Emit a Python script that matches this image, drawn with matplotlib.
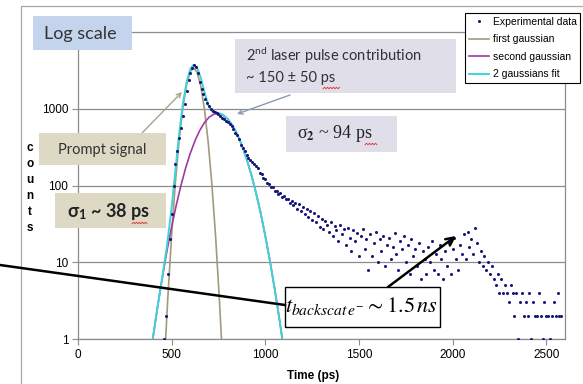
import numpy as np
import matplotlib
matplotlib.use("Agg")
import matplotlib.pyplot as plt
from matplotlib.patches import Rectangle
from matplotlib.lines import Line2D
from matplotlib.transforms import Affine2D

W, H = 583, 384

# experimental histogram: 10 ps bins starting at 460 ps (counts)
T0, DT = 460, 10
counts = [
    1, 2, 7, 20, 43, 100, 190, 280, 420, 560,
    800, 1150, 1700, 2400, 2950, 3400, 3750, 3500, 2900, 2200,
    1800, 1550, 1350, 1180, 1080, 980, 930, 900, 870, 850,
    800, 760, 730, 700, 670, 640, 600, 540, 490, 450,
    400, 340, 310, 280, 250, 230, 215, 200, 190, 178,
    168, 146, 140, 124, 121, 107, 106, 95, 97, 86,
    86, 78, 79, 71, 72, 66, 67, 60, 62, 56,
    60, 49, 57, 46, 53, 42, 50, 39, 47, 36,
    44, 33, 40, 29, 37, 27, 34, 31, 25, 33,
    22, 30, 26, 19, 31, 23, 27, 17, 28, 21,
    14, 26, 19, 24, 12, 22, 27, 15, 20, 8,
    23, 12, 18, 25, 10, 20, 14, 22, 9, 17,
    21, 11, 16, 24, 13, 8, 19, 15, 22, 10,
    17, 7, 20, 12, 15, 9, 18, 6, 14, 11,
    7, 16, 10, 19, 8, 13, 7, 17, 11, 6,
    14, 9, 18, 7, 15, 21, 11, 8, 17, 13,
    23, 11, 25, 16, 20, 13, 28, 18, 10, 14,
    9, 12, 8, 10, 7, 9, 6, 5, 7, 4,
    6, 4, 5, 4, 3, 5, 4, 2, 4, 1,
    3, 4, 2, 3, 2, 4, 1, 3, 2, 2,
    4, 2, 1, 3, 2, 2, 1, 2, 3, 2,
    4, 2, 2,
]
time_ps = T0 + DT * np.arange(len(counts))

# fitted curves, points
g1_t = [465, 480, 500, 520, 540, 560, 580, 600, 617, 635, 655, 675, 695, 715, 735, 755, 770]
g1_y = [0.74, 3.6, 22.9, 110, 390, 1038, 2062, 3060, 3400, 3020, 2006, 995, 368, 102, 21, 3.2, 0.66]

g2_t = [400, 425, 450, 475, 500, 525, 550, 575, 600, 625, 650, 675, 700, 725, 745,
        770, 800, 825, 850, 875, 900, 925, 950, 975, 1000, 1025, 1050, 1075, 1100]
g2_y = [1.03, 2.65, 6.3, 14.1, 29.1, 56, 101, 170, 265, 385, 522, 659, 776, 850, 870,
        840, 733, 606, 466, 334, 223, 139, 81, 44, 22, 10.3, 4.5, 1.83, 0.70]

fit_t = [400, 425, 450, 475, 500, 520, 540, 560, 580, 600, 617, 635, 655, 675, 695, 715,
         735, 755, 775, 800, 825, 850, 875, 900, 925, 950, 975, 1000, 1025, 1050, 1075, 1100]
fit_y = [1.03, 2.65, 6.4, 16.3, 52, 159, 471, 1163, 2248, 3325, 3744, 3459, 2556, 1654, 1123, 929,
         886, 868, 827, 733, 606, 466, 334, 223, 139, 81, 44, 22, 10.3, 4.5, 1.83, 0.70]

x_ticks = [0, 500, 1000, 1500, 2000, 2500]
y_ticks = [1, 10, 100, 1000]

DATA_C, G1_C, G2_C, FIT_C = "#17177a", "#a39a7c", "#a03aa0", "#3fd3d8"
GRID_C = "#8c8c8c"

plt.rcParams["font.family"] = ["Liberation Sans", "DejaVu Sans"]
plt.rcParams["mathtext.fontset"] = "custom"
plt.rcParams["mathtext.rm"] = "Lato"
plt.rcParams["mathtext.it"] = "Lato:italic"
plt.rcParams["mathtext.bf"] = "Lato:bold"

fig = plt.figure(figsize=(W / 100, H / 100), dpi=100)
PX = Affine2D().scale(1 / W, -1 / H).translate(0, 1) + fig.transFigure

# outer chart frame
fig.add_artist(Rectangle((21, 6), 700, 500, transform=PX, fill=False,
                         edgecolor="#a8a8a8", lw=0.9, zorder=0))

ax = fig.add_axes([78 / W, 1 - 339 / H, (565 - 78) / W, (339 - 32) / H])
ax.set_yscale("log")
ax.plot(g1_t, g1_y, color=G1_C, lw=1.2, label="first gaussian", zorder=2)
ax.plot(g2_t, g2_y, color=G2_C, lw=1.2, label="second gaussian", zorder=2)
ax.plot(fit_t, fit_y, color=FIT_C, lw=1.4, label="2 gaussians fit", zorder=3)
ax.plot(time_ps, counts, ls="none", marker="o", ms=2.2, mew=0, color=DATA_C,
        label="Experimental data", zorder=4)
ax.set_xlim(0, 2600)
ax.set_ylim(1, 10000)
ax.set_xticks(x_ticks)
ax.set_yticks(y_ticks)
ax.set_yticklabels([str(v) for v in y_ticks])
ax.minorticks_off()
ax.tick_params(length=4, color=GRID_C, labelsize=8.5, pad=3)
ax.grid(axis="y", color=GRID_C, lw=0.9)
for s in ax.spines.values():
    s.set_color(GRID_C)
    s.set_linewidth(0.9)

h, l = ax.get_legend_handles_labels()
order = [3, 0, 1, 2]
leg = fig.legend([h[i] for i in order], [l[i] for i in order], loc="upper left",
                 bbox_to_anchor=(465 / W, 1 - 13 / H), frameon=True,
                 fancybox=False, framealpha=1, edgecolor="black", borderaxespad=0,
                 borderpad=0.35, handlelength=2.0, handletextpad=0.3, labelspacing=0.72,
                 prop={"family": ["Liberation Sans Narrow", "Liberation Sans"], "size": 7.5})
leg.get_frame().set_linewidth(0.8)

fig.text(313, 376, "Time (ps)", transform=PX, ha="center", va="center",
         fontsize=8.5, fontweight="bold")
fig.text(30, 188, "c\no\nu\nn\nt\ns", transform=PX, ha="center", va="center",
         fontsize=8.5, fontweight="bold", linespacing=1.45)


def box(x0, y0, x1, y1, color, edge="none", lw=0):
    fig.add_artist(Rectangle((x0, y0), x1 - x0, y1 - y0, transform=PX, facecolor=color,
                             edgecolor=edge, lw=lw, zorder=5))


def arrow(x0, y0, x1, y1, color, lw=1.0, size=8):
    ax.annotate("", xy=(x1, y1), xytext=(x0, y0), xycoords=PX, textcoords=PX,
                arrowprops=dict(arrowstyle="->", color=color, lw=lw, mutation_scale=size,
                                shrinkA=0, shrinkB=0), zorder=6, annotation_clip=False)


def squiggle(x0, x1, y):
    xs = np.arange(x0, x1 + 0.1, 1.5)
    ys = y + np.where(np.arange(len(xs)) % 2 == 0, 0.8, -0.8)
    fig.add_artist(Line2D(xs, ys, transform=PX, color="#e03030", lw=0.6, zorder=7))


TXT = "#333333"
cal = ["Lato", "DejaVu Sans"]

box(33, 16, 132, 50, "#c3d4ec")
fig.text(80, 34, "Log scale", transform=PX, ha="center", va="center", fontsize=13,
         family=cal, color=TXT, zorder=6)

box(235, 39, 456, 93, "#e0dee9")
fig.text(246, 56, r"2$^{\mathrm{nd}}$ laser pulse contribution", transform=PX, ha="left",
         va="center", fontsize=10.5, family=cal, color=TXT, zorder=6)
fig.text(246, 78, "~ 150 ± 50 ps", transform=PX, ha="left", va="center", fontsize=10.5,
         family=cal, color=TXT, zorder=6)
squiggle(323, 340, 88)
arrow(290, 95, 237, 114, "#8c98b4")

box(39, 133, 166, 165, "#ddd9c4")
fig.text(102, 150, "Prompt signal", transform=PX, ha="center", va="center", fontsize=10.5,
         family=cal, color=TXT, zorder=6)
arrow(142, 133, 182, 92, "#aaa28c")

box(55, 193, 166, 228, "#ddd9c4")
fig.text(67, 211, r"σ$_\mathbf{1}$ ~ 38 ps", transform=PX, ha="left", va="center",
         fontsize=13, fontweight="bold", family=cal, color="#222222", zorder=6)
squiggle(132, 147, 223)

box(286, 116, 397, 152, "#e0dee9")
fig.text(297, 134, r"σ$_\mathbf{2}$ ~ 94 ps", transform=PX, ha="left", va="center",
         fontsize=13, family=["Liberation Serif", "DejaVu Serif"], color="#222222",
         math_fontfamily="stix", zorder=6)
squiggle(365, 378, 144)

# backscatter annotation
fig.add_artist(Line2D([0, 285], [265, 305], transform=PX, color="black", lw=1.8, zorder=6))
box(285, 287, 440, 327, "white", edge="black", lw=1.0)
fig.text(362, 306, r"$t_{backscat\,e^{-}} \sim 1.5\,ns$", transform=PX, ha="center",
         va="center", fontsize=16, math_fontfamily="stix", color="black", zorder=6)
arrow(388, 287, 456, 236, "black", lw=1.8, size=14)

fig.savefig("out.png", dpi=100)
